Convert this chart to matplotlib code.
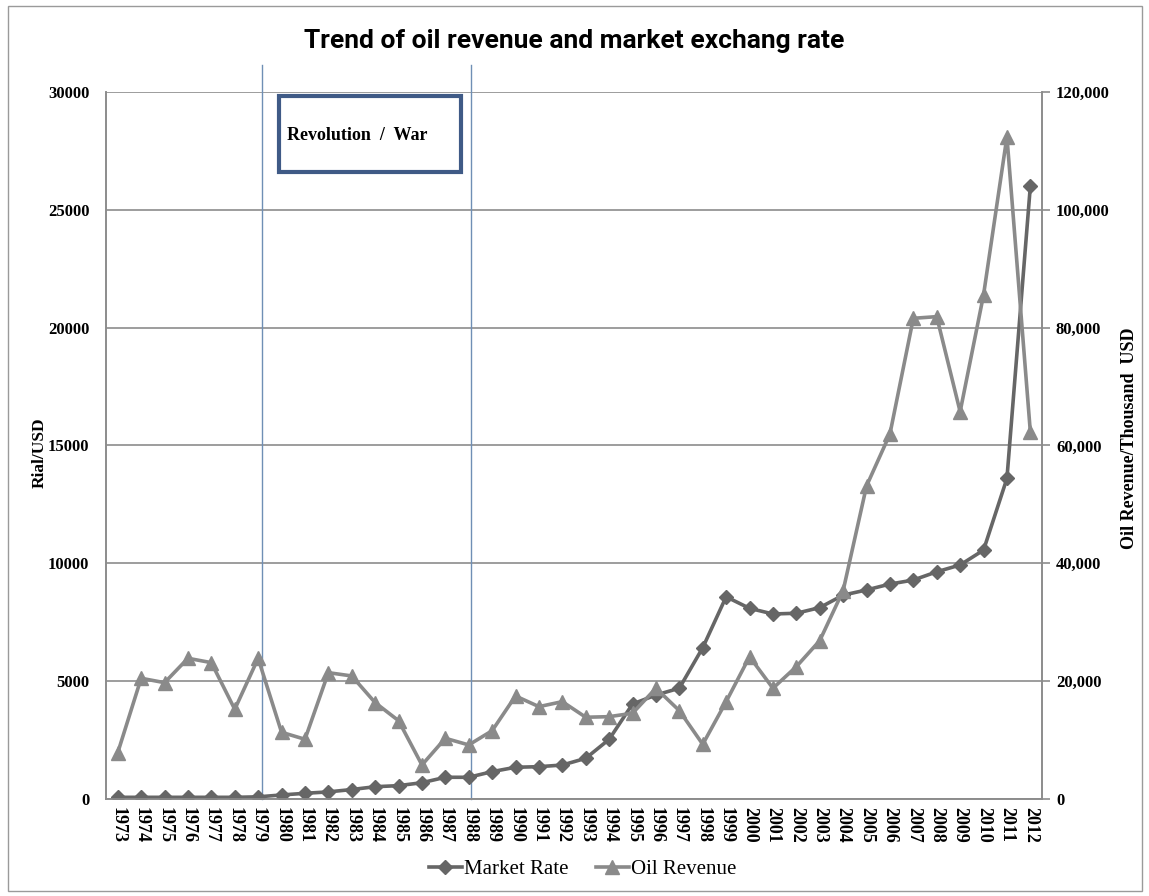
import matplotlib.pyplot as plt
from matplotlib.patches import Rectangle

# data
years = [str(y) for y in range(1973, 2013)]
market_rate = [70, 70, 70, 70, 70, 70, 90, 170, 240, 300, 400, 520, 565, 690,
               920, 920, 1160, 1345, 1370, 1440, 1725, 2530, 4030, 4410, 4700,
               6420, 8580, 8090, 7850, 7880, 8120, 8650, 8870, 9120, 9290,
               9640, 9930, 10560, 13600, 26000]
oil_revenue = [7860, 20490, 19740, 23880, 23140, 15220, 23880, 11320, 10130,
               21440, 20880, 16350, 13290, 5770, 10300, 9170, 11590, 17480,
               15670, 16520, 13870, 13970, 14550, 18790, 14990, 9280, 16520,
               24150, 18790, 22460, 26870, 35360, 53130, 61950, 81590, 81870,
               65740, 85540, 112420, 62340]
left_ticks = [0, 5000, 10000, 15000, 20000, 25000, 30000]
right_ticks = [0, 20000, 40000, 60000, 80000, 100000, 120000]
event_years = [6.15, 15.1]   # vertical markers just after 1979 and 1988

serif = ['Liberation Serif', 'DejaVu Serif']
grey_line = '#8c8c8c'

fig = plt.figure(figsize=(11.49, 8.96), dpi=100)
ax = fig.add_axes([0.0923, 0.1083, 0.8146, 0.789])
ax2 = ax.twinx()

x = list(range(len(years)))
l1, = ax.plot(x, market_rate, color='#666666', lw=2.6, marker='D',
              markersize=7.5, label='Market Rate', zorder=3)
l2, = ax2.plot(x, oil_revenue, color='#8a8a8a', lw=2.6, marker='^',
               markersize=10, label='Oil Revenue', zorder=3)

ax.set_xlim(-0.5, len(years) - 0.5)
ax.set_ylim(0, 30000)
ax2.set_ylim(0, 120000)
ax.set_yticks(left_ticks)
ax.set_yticklabels([str(v) for v in left_ticks])
ax2.set_yticks(right_ticks)
ax2.set_yticklabels([f'{v:,}' for v in right_ticks])
ax.set_xticks(x)
ax.set_xticklabels(years, rotation=270)

for a in (ax, ax2):
    a.spines['top'].set_visible(False)
    for s in ('left', 'right', 'bottom'):
        a.spines[s].set_color(grey_line)
        a.spines[s].set_linewidth(1.2)
    for lab in a.get_yticklabels():
        lab.set_fontfamily(serif)
        lab.set_fontweight('bold')
        lab.set_fontsize(12)
for lab in ax.get_xticklabels():
    lab.set_fontfamily(serif)
    lab.set_fontweight('bold')
    lab.set_fontsize(13)
ax.tick_params(axis='x', length=0, pad=6)
ax.tick_params(axis='y', length=0, pad=12)
ax2.tick_params(axis='y', color=grey_line, length=6, width=1.2, pad=4)

ax.grid(axis='y', color=grey_line, lw=1.2)
ax.grid(axis='x', visible=False)
ax.set_axisbelow(True)

for ev in event_years:
    ax.axvline(ev, ymin=0, ymax=1.038, color='#6f8fb5', lw=1, clip_on=False,
               zorder=1)

box = Rectangle((6.9, 26600), 7.75, 3230, facecolor='white',
                edgecolor='#3f5a86', lw=3, zorder=4)
ax.add_patch(box)
ax.text(7.25, 28150, 'Revolution  /  War', fontfamily=serif, fontweight='bold',
        fontsize=13, va='center', ha='left', zorder=5)

ax.set_ylabel('Rial/USD', fontfamily=serif, fontweight='bold', fontsize=12.5)
ax.yaxis.set_label_coords(-0.062, 0.49)
ax2.set_ylabel('Oil Revenue/Thousand  USD', fontfamily=serif,
               fontweight='bold', fontsize=13, rotation=90)
ax2.yaxis.set_label_coords(1.084, 0.51)

fig.suptitle('Trend of oil revenue and market exchang rate', y=0.968,
             fontsize=19, fontweight='bold',
             fontfamily=['Roboto', 'DejaVu Sans'])

fig.legend(handles=[l1, l2], loc='center', bbox_to_anchor=(0.507, 0.030),
           ncol=2, frameon=False, handlelength=1.6, handletextpad=0.1,
           columnspacing=1.3, prop={'family': serif, 'size': 15})

fig.patches.append(Rectangle((0.007, 0.006), 0.987, 0.987, transform=fig.transFigure,
                             fill=False, edgecolor='#9a9a9a', lw=1))

fig.savefig('out.png', dpi=100)
